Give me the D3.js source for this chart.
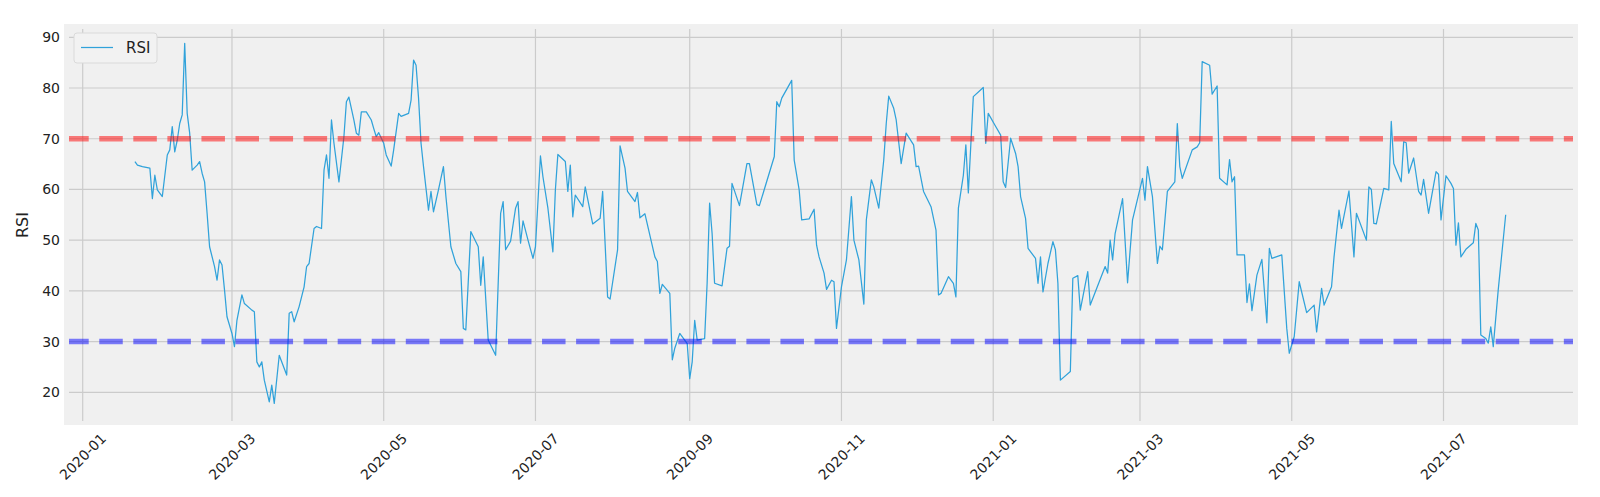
<!DOCTYPE html>
<html>
<head>
<meta charset="utf-8">
<script src="https://cdn.jsdelivr.net/npm/d3@7"></script>
<style>
html,body{margin:0;padding:0;background:#fff;}
svg{display:block;}
text{font-family:"DejaVu Sans",sans-serif;fill:#222;}
</style>
</head>
<body>
<svg id="chart" width="1600" height="497"></svg>
<script>
const dates = [
"2020-01-22","2020-01-23","2020-01-25","2020-01-28","2020-01-29","2020-01-30","2020-01-31","2020-02-02","2020-02-04","2020-02-05",
"2020-02-06","2020-02-07","2020-02-08","2020-02-09","2020-02-10","2020-02-11","2020-02-12","2020-02-13","2020-02-14","2020-02-16",
"2020-02-17","2020-02-18","2020-02-19","2020-02-20","2020-02-21","2020-02-23","2020-02-24","2020-02-25","2020-02-26","2020-02-27",
"2020-02-28","2020-03-01","2020-03-02","2020-03-03","2020-03-05","2020-03-06","2020-03-09","2020-03-10","2020-03-11","2020-03-12",
"2020-03-13","2020-03-14","2020-03-16","2020-03-17","2020-03-18","2020-03-20","2020-03-23","2020-03-24","2020-03-25","2020-03-26",
"2020-03-28","2020-03-30","2020-03-31","2020-04-01","2020-04-03","2020-04-04","2020-04-06","2020-04-07","2020-04-08","2020-04-09",
"2020-04-10","2020-04-11","2020-04-13","2020-04-15","2020-04-16","2020-04-17","2020-04-19","2020-04-20","2020-04-21","2020-04-22",
"2020-04-24","2020-04-26","2020-04-27","2020-04-28","2020-04-29","2020-05-01","2020-05-02","2020-05-04","2020-05-05","2020-05-07",
"2020-05-08","2020-05-11","2020-05-12","2020-05-13","2020-05-14","2020-05-15","2020-05-16","2020-05-17","2020-05-19","2020-05-20",
"2020-05-21","2020-05-23","2020-05-25","2020-05-26","2020-05-28","2020-05-30","2020-06-01","2020-06-02","2020-06-03","2020-06-05",
"2020-06-08","2020-06-09","2020-06-10","2020-06-12","2020-06-15","2020-06-17","2020-06-18","2020-06-19","2020-06-21","2020-06-23",
"2020-06-24","2020-06-25","2020-06-26","2020-06-28","2020-06-30","2020-07-01","2020-07-03","2020-07-04","2020-07-06","2020-07-08",
"2020-07-09","2020-07-10","2020-07-13","2020-07-14","2020-07-15","2020-07-16","2020-07-17","2020-07-20","2020-07-21","2020-07-24",
"2020-07-27","2020-07-28","2020-07-30","2020-07-31","2020-08-03","2020-08-04","2020-08-06","2020-08-07","2020-08-10","2020-08-11",
"2020-08-12","2020-08-14","2020-08-18","2020-08-19","2020-08-20","2020-08-21","2020-08-24","2020-08-25","2020-08-26","2020-08-28",
"2020-08-31","2020-09-01","2020-09-02","2020-09-03","2020-09-04","2020-09-07","2020-09-08","2020-09-09","2020-09-10","2020-09-11",
"2020-09-14","2020-09-16","2020-09-17","2020-09-18","2020-09-21","2020-09-24","2020-09-25","2020-09-28","2020-09-29","2020-10-05",
"2020-10-06","2020-10-07","2020-10-08","2020-10-12","2020-10-13","2020-10-15","2020-10-16","2020-10-19","2020-10-21","2020-10-22",
"2020-10-23","2020-10-25","2020-10-26","2020-10-28","2020-10-29","2020-10-30","2020-11-01","2020-11-03","2020-11-05","2020-11-06",
"2020-11-08","2020-11-10","2020-11-11","2020-11-13","2020-11-14","2020-11-16","2020-11-18","2020-11-19","2020-11-20","2020-11-22",
"2020-11-23","2020-11-25","2020-11-27","2020-11-30","2020-12-01","2020-12-02","2020-12-04","2020-12-07","2020-12-09","2020-12-10",
"2020-12-11","2020-12-14","2020-12-16","2020-12-17","2020-12-18","2020-12-20","2020-12-21","2020-12-22","2020-12-24","2020-12-28",
"2020-12-29","2020-12-30","2021-01-02","2021-01-04","2021-01-05","2021-01-06","2021-01-08","2021-01-10","2021-01-11","2021-01-12",
"2021-01-14","2021-01-15","2021-01-18","2021-01-19","2021-01-20","2021-01-21","2021-01-23","2021-01-25","2021-01-26","2021-01-27",
"2021-01-28","2021-02-01","2021-02-02","2021-02-04","2021-02-05","2021-02-08","2021-02-09","2021-02-15","2021-02-16","2021-02-17",
"2021-02-18","2021-02-19","2021-02-22","2021-02-24","2021-02-26","2021-03-02","2021-03-03","2021-03-04","2021-03-06","2021-03-08",
"2021-03-09","2021-03-10","2021-03-12","2021-03-15","2021-03-16","2021-03-17","2021-03-18","2021-03-22","2021-03-24","2021-03-25",
"2021-03-26","2021-03-29","2021-03-30","2021-04-01","2021-04-02","2021-04-05","2021-04-06","2021-04-07","2021-04-08","2021-04-09",
"2021-04-12","2021-04-13","2021-04-14","2021-04-15","2021-04-17","2021-04-19","2021-04-21","2021-04-22","2021-04-23","2021-04-27",
"2021-04-29","2021-04-30","2021-05-02","2021-05-04","2021-05-07","2021-05-10","2021-05-11","2021-05-13","2021-05-14","2021-05-17",
"2021-05-18","2021-05-20","2021-05-21","2021-05-24","2021-05-26","2021-05-27","2021-05-31","2021-06-01","2021-06-02","2021-06-03",
"2021-06-04","2021-06-07","2021-06-09","2021-06-10","2021-06-11","2021-06-14","2021-06-15","2021-06-16","2021-06-17","2021-06-19",
"2021-06-21","2021-06-22","2021-06-23","2021-06-25","2021-06-28","2021-06-29","2021-06-30","2021-07-02","2021-07-04","2021-07-05",
"2021-07-06","2021-07-07","2021-07-08","2021-07-10","2021-07-13","2021-07-14","2021-07-15","2021-07-16","2021-07-18","2021-07-19",
"2021-07-20","2021-07-21","2021-07-23","2021-07-26"
];
const rsi = [
65.5,64.8,64.5,64.2,58.2,62.8,59.9,58.6,66.8,67.8,
72.4,67.4,69.7,73.0,74.7,88.8,75.0,71.1,63.8,64.8,
65.5,63.2,61.5,55.3,48.7,44.8,42.1,46.1,45.1,40.2,
34.9,31.6,29.0,34.2,39.2,37.5,36.2,35.9,26.0,25.0,
26.0,22.4,18.1,21.4,17.8,27.3,23.4,35.6,35.9,33.9,
36.9,40.8,44.8,45.4,52.3,52.7,52.3,63.8,66.8,62.2,
73.7,69.1,61.5,70.4,77.3,78.2,73.7,71.1,70.7,75.3,
75.3,73.7,72.0,70.4,71.2,69.1,66.8,64.6,67.8,75.0,
74.4,75.0,77.6,85.5,84.5,78.0,69.1,64.5,55.9,59.6,
55.6,59.9,64.5,58.6,48.7,45.4,43.8,32.6,32.3,51.7,
48.7,41.1,46.7,30.3,27.3,55.3,57.6,48.1,49.8,56.3,
57.6,49.4,53.8,50.0,46.4,48.7,66.6,62.5,56.3,47.7,
59.9,66.9,65.5,59.6,64.8,54.6,58.9,56.6,60.5,53.2,
54.3,59.6,38.8,38.4,48.1,68.6,64.2,59.6,57.6,59.4,
54.4,55.2,46.7,45.8,39.5,41.3,39.5,26.4,28.7,31.6,
29.6,22.7,26.0,34.2,30.3,30.6,41.5,57.3,51.3,41.5,
41.0,48.4,48.8,61.2,56.8,65.1,65.1,57.0,56.8,66.5,
77.3,76.3,78.0,81.5,65.8,59.9,54.0,54.2,56.1,49.0,
46.7,43.5,40.3,42.1,41.8,32.6,40.8,46.1,58.6,50.0,
46.1,37.4,54.0,61.9,60.5,56.3,65.8,73.0,78.4,76.0,
73.7,65.1,71.1,68.8,64.5,64.6,59.6,56.6,52.0,39.2,
39.5,42.8,41.5,38.8,56.3,62.8,68.8,59.3,78.3,80.1,
69.1,75.0,72.4,70.7,61.5,60.4,70.1,67.1,64.5,58.6,
54.3,48.4,46.4,41.5,46.7,39.8,45.4,49.7,48.1,41.5,
22.4,24.1,42.5,43.0,36.2,43.8,37.2,44.8,43.5,50.0,
46.1,51.3,58.2,41.6,54.0,62.2,57.9,64.5,58.6,45.4,
48.8,48.1,59.6,61.5,73.0,64.5,62.2,67.8,68.4,69.2,
85.2,84.5,78.8,80.4,62.2,60.9,65.9,61.5,62.5,47.1,
47.1,37.7,41.4,36.1,43.1,46.2,33.7,48.4,46.4,47.1,
32.6,27.7,31.0,41.8,35.7,37.2,31.9,40.5,37.2,40.8,
46.7,55.9,52.3,59.7,46.7,55.3,50.0,60.5,60.0,53.3,
53.2,60.2,59.9,73.4,65.1,61.5,69.4,69.2,63.2,66.2,
59.6,58.9,62.0,55.3,63.5,63.0,54.0,62.7,61.2,60.2,
49.0,53.4,46.7,48.2,49.5,53.3,52.0,31.3,30.6,29.7,
32.9,29.0,40.2,55.0
];
const yTicks = [20, 30, 40, 50, 60, 70, 80, 90];
const xTickLabels = ["2020-01","2020-03","2020-05","2020-07","2020-09","2020-11","2021-01","2021-03","2021-05","2021-07"];
const overbought = 70;
const oversold = 30;
const seriesName = "RSI";

const parse = d3.utcParse("%Y-%m-%d");
const parseMonth = d3.utcParse("%Y-%m");
const data = dates.map((d, i) => ({date: parse(d), value: rsi[i]}));

const svg = d3.select("#chart");
const outer = {l: 64, r: 1578, t: 24, b: 425};
const inner = {l: 69, r: 1573, t: 29, b: 421};

const x = d3.scaleUtc()
  .domain([parse("2020-01-01"), parse("2021-07-01")])
  .range([82.7, 1443.5]);
const y = d3.scaleLinear().domain([20, 90]).range([392.3, 37.3]);

// background
svg.append("rect").attr("x", outer.l).attr("y", outer.t)
  .attr("width", outer.r - outer.l).attr("height", outer.b - outer.t)
  .attr("fill", "#f0f0f0");

svg.append("defs").append("clipPath").attr("id", "clip")
  .append("rect").attr("x", inner.l).attr("y", inner.t)
  .attr("width", inner.r - inner.l).attr("height", inner.b - inner.t);

// grid
const grid = svg.append("g").attr("stroke", "#cbcbcb").attr("stroke-width", 1.2);
grid.selectAll("line.h").data(yTicks).join("line")
  .attr("x1", inner.l).attr("x2", inner.r)
  .attr("y1", d => y(d)).attr("y2", d => y(d));
const xTickDates = xTickLabels.map(s => parseMonth(s));
grid.selectAll("line.v").data(xTickDates).join("line")
  .attr("x1", d => x(d)).attr("x2", d => x(d))
  .attr("y1", inner.t).attr("y2", inner.b);

// RSI line
const line = d3.line().x(d => x(d.date)).y(d => y(d.value));
svg.append("path").datum(data)
  .attr("clip-path", "url(#clip)")
  .attr("d", line)
  .attr("fill", "none")
  .attr("stroke", "#30a2da")
  .attr("stroke-width", 1.25)
  .attr("stroke-linejoin", "round");

// threshold lines
[[overbought, "red"], [oversold, "blue"]].forEach(([v, c]) => {
  svg.append("line")
    .attr("x1", inner.l).attr("x2", inner.r)
    .attr("y1", y(v)).attr("y2", y(v))
    .attr("stroke", c).attr("stroke-opacity", 0.5)
    .attr("stroke-width", 5.5)
    .attr("stroke-dasharray", "23.5 10.56")
    .attr("stroke-dashoffset", 3.8);
});

// y tick labels
svg.append("g").selectAll("text").data(yTicks).join("text")
  .attr("x", 60).attr("y", d => y(d))
  .attr("dy", "0.36em")
  .attr("text-anchor", "end")
  .style("font-size", "14px")
  .text(d => d);

// x tick labels rotated 45
svg.append("g").selectAll("text").data(xTickDates).join("text")
  .attr("transform", (d) => `translate(${x(d)},456.5) rotate(-45)`)
  .attr("text-anchor", "middle")
  .attr("dy", "0.36em")
  .style("font-size", "14px")
  .text((d, i) => xTickLabels[i]);

// y axis label
svg.append("text")
  .attr("transform", `translate(22,${(inner.t + inner.b) / 2}) rotate(-90)`)
  .attr("text-anchor", "middle")
  .attr("dy", "0.36em")
  .style("font-size", "16px")
  .text(seriesName);

// legend
const lg = svg.append("g");
lg.append("rect").attr("x", 74).attr("y", 33).attr("width", 83).attr("height", 30)
  .attr("rx", 3).attr("fill", "#f2f2f2").attr("stroke", "#dadada").attr("stroke-width", 1);
lg.append("line").attr("x1", 81).attr("x2", 113).attr("y1", 47.5).attr("y2", 47.5)
  .attr("stroke", "#30a2da").attr("stroke-width", 1.25);
lg.append("text").attr("x", 126).attr("y", 47.5).attr("dy", "0.36em")
  .style("font-size", "15px").text(seriesName);
</script>
</body>
</html>
